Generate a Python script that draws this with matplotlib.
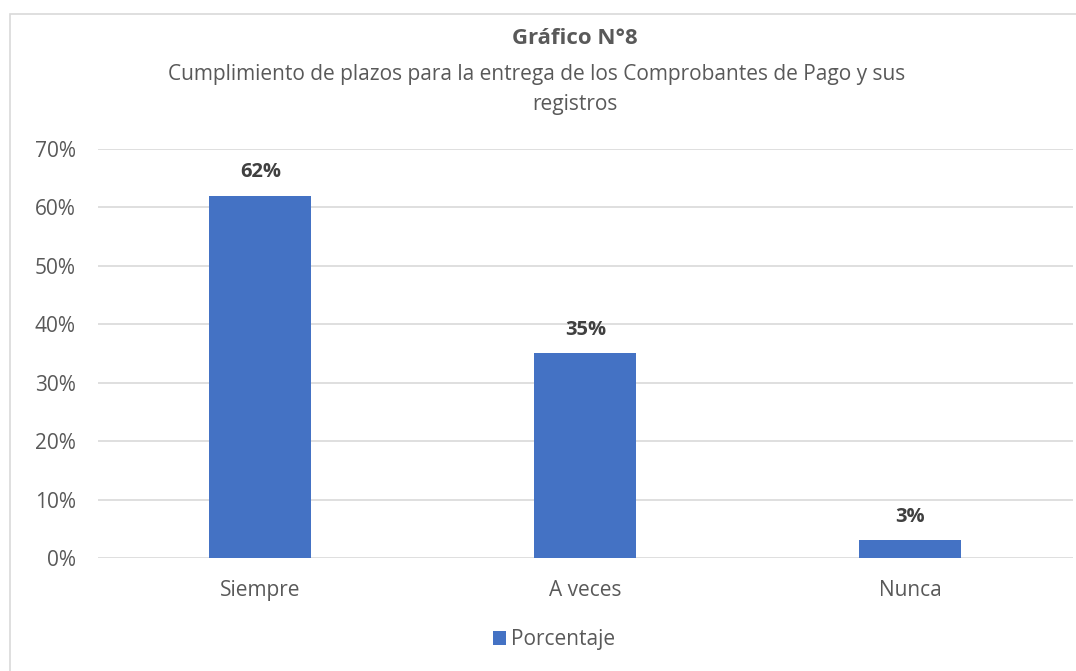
import matplotlib.pyplot as plt
import numpy as np
from matplotlib.patches import Rectangle

categorias = ["Siempre", "A veces", "Nunca"]
porcentajes = [62, 35, 3]
serie = "Porcentaje"
titulo = "Gráfico N°8"
subtitulo_1 = "Cumplimiento de plazos para la entrega de los Comprobantes de Pago y sus"
subtitulo_2 = "registros"

azul = "#4472C4"
gris_texto = "#595959"

plt.rcParams['font.family'] = ['Open Sans', 'DejaVu Sans']

fig = plt.figure(figsize=(10.76, 6.71), dpi=100)
ax = fig.add_axes([0.091, 0.1684, 0.906, 0.6096])

x = np.arange(len(categorias))
barras = ax.bar(x, porcentajes, width=0.314, color=azul, label=serie, zorder=3)
for xi, v in zip(x, porcentajes):
    ax.text(xi, v + 4.0, f"{v}%", ha="center", va="center", fontsize=14.5,
            fontweight="bold", color="#404040")

ax.set_xlim(-0.5, 2.5)
ax.set_ylim(0, 70)
ax.set_yticks(range(0, 71, 10))
ax.set_yticklabels([f"{t}%" for t in range(0, 71, 10)])
ax.set_xticks(x)
ax.set_xticklabels(categorias)
ax.tick_params(axis="both", length=0, labelsize=15, colors=gris_texto)
ax.tick_params(axis="y", pad=16)
ax.tick_params(axis="x", pad=16)
ax.grid(axis="y", color="#D9D9D9", linewidth=1.2, zorder=0)
for s in ax.spines.values():
    s.set_visible(False)

# titulo y subtitulo (la primera linea del subtitulo queda desplazada como en el original)
fig.text(0.534, 0.943, titulo, ha="center", va="center", fontsize=16,
         fontweight="bold", color=gris_texto)
fig.text(0.4987, 0.889, subtitulo_1, ha="center", va="center", fontsize=15,
         color=gris_texto)
fig.text(0.534, 0.844, subtitulo_2, ha="center", va="center", fontsize=15,
         color=gris_texto)

leg = fig.legend(handles=[barras], loc="center", bbox_to_anchor=(0.515, 0.047),
                 frameon=False, fontsize=15, handlelength=0.65, handleheight=0.65,
                 handletextpad=0.25, labelcolor=gris_texto)

fig.patches.append(Rectangle((0.009, -0.05), 1.2, 1.029, transform=fig.transFigure,
                             fill=False, edgecolor="#D9D9D9", linewidth=1.2))

fig.savefig("out.png", dpi=100)
